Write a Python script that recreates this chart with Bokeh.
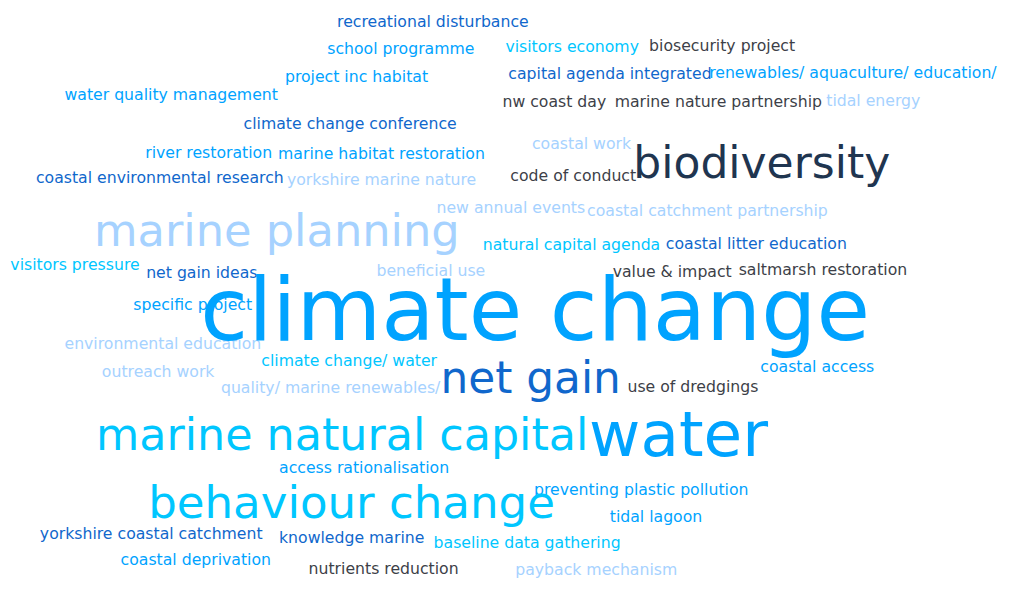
from bokeh.plotting import figure
from bokeh.models import ColumnDataSource, Range1d
from bokeh.core.properties import value
from bokeh.embed import file_html
from bokeh.resources import INLINE

# ---- data: words and their relative weights (size relative to the smallest words)
words = [
    "recreational disturbance", "school programme", "visitors economy", "biosecurity project",
    "project inc habitat", "capital agenda integrated", "renewables/ aquaculture/ education/",
    "water quality management", "nw coast day", "marine nature partnership", "tidal energy",
    "climate change conference", "coastal work", "river restoration",
    "marine habitat restoration", "code of conduct", "coastal environmental research",
    "yorkshire marine nature", "new annual events", "coastal catchment partnership",
    "natural capital agenda", "coastal litter education", "visitors pressure",
    "net gain ideas", "beneficial use", "value & impact", "saltmarsh restoration",
    "specific project", "environmental education", "climate change/ water", "coastal access",
    "outreach work", "quality/ marine renewables/", "use of dredgings",
    "access rationalisation", "preventing plastic pollution", "tidal lagoon",
    "yorkshire coastal catchment", "knowledge marine", "baseline data gathering",
    "coastal deprivation", "nutrients reduction", "payback mechanism",
    "biodiversity", "marine planning", "net gain", "marine natural capital", "water",
    "behaviour change", "climate change",
]
weights = [1] * 43 + [2.8, 2.85, 2.79, 2.83, 4.0, 2.87, 5.54]

# ---- layout (left edge and baseline of each word, in picture pixels)
x_left = [342, 332, 513, 659, 289, 516, 720, 65, 510, 624, 839, 247, 540, 147, 282, 518, 36,
          291, 443, 596, 490, 676, 10, 148, 382, 622, 750, 135, 65, 265, 772, 103, 224, 637,
          283, 542, 619, 40, 283, 440, 122, 313, 523,
          643, 95, 447, 97, 598, 150, 203]
y_base = [27, 55, 53, 52, 84, 80, 79, 102, 109, 109, 108, 132, 153, 162, 163, 185, 188,
          190, 218, 221, 257, 255, 277, 285, 283, 284, 282, 318, 358, 376, 382, 387, 404, 403,
          486, 509, 537, 554, 558, 563, 581, 590, 591,
          182, 252, 403, 462, 468, 532, 348]

# ---- colour groups
palette = {
    "navy": "#1f3550", "gray": "#3d3f48", "blue": "#00a3ff",
    "cyan": "#00c6ff", "mid": "#1067cc", "light": "#a6d2ff",
}
groups = ["mid", "blue", "cyan", "gray", "blue", "mid", "blue", "blue", "gray", "gray", "light",
          "mid", "light", "blue", "blue", "gray", "mid", "light", "light", "light", "cyan",
          "mid", "cyan", "mid", "light", "gray", "gray", "blue", "light", "cyan", "blue",
          "light", "light", "gray", "blue", "blue", "blue", "mid", "mid", "cyan", "blue",
          "gray", "light",
          "navy", "light", "mid", "cyan", "blue", "cyan", "blue"]

W, H = 998, 578
X_MAX, Y_MAX = 1014, 595
BASE_PX = 15.7
unit_y = Y_MAX / H  # data units per screen pixel (vertical)

sizes_px = [BASE_PX * w for w in weights]
y_mid = [b - 0.33 * s * unit_y for b, s in zip(y_base, sizes_px)]

src = ColumnDataSource(dict(
    x=x_left, y=y_mid, word=words,
    size=["%.1fpx" % s for s in sizes_px],
    color=[palette[g] for g in groups],
))

p = figure(width=W, height=H, output_backend="svg", toolbar_location=None,
           x_range=Range1d(0, X_MAX), y_range=Range1d(Y_MAX, 0),
           x_axis_type=None, y_axis_type=None, min_border=0)
p.grid.visible = False
p.outline_line_color = None
p.background_fill_color = "white"
p.border_fill_color = "white"

p.text(x="x", y="y", text="word", source=src, text_font=value("DejaVu Sans"),
       text_font_size="size", text_color="color", text_align="left",
       text_baseline="middle")

open("out.html", "w").write(file_html(p, INLINE))
